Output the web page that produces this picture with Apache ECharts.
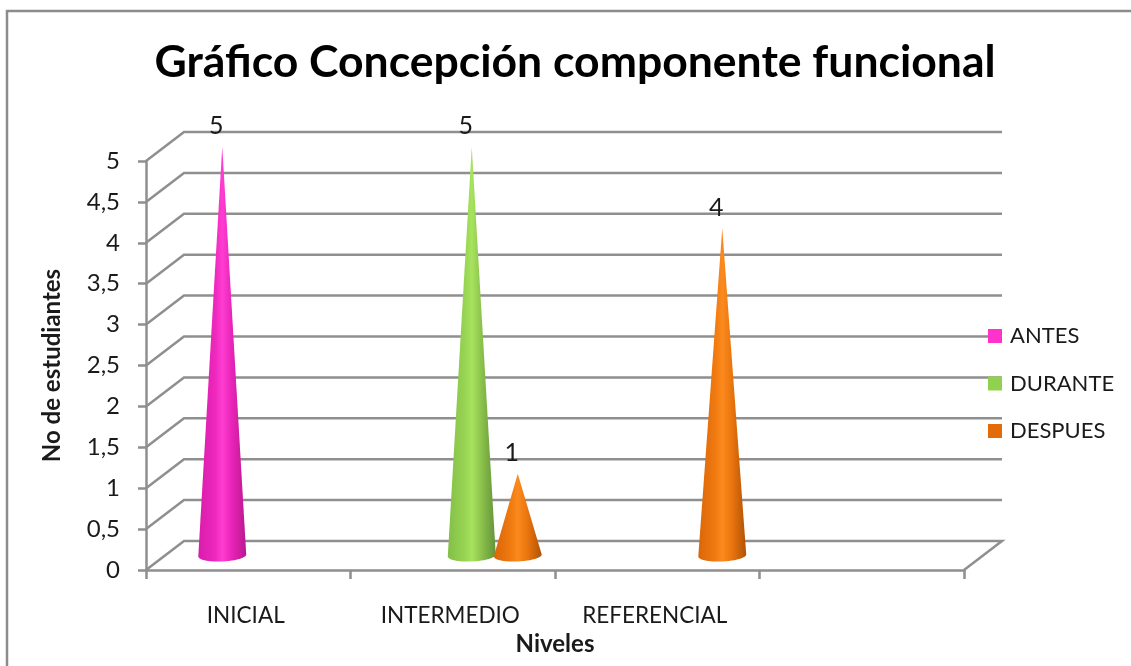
<!DOCTYPE html>
<html><head><meta charset="utf-8">
<style>html,body{margin:0;padding:0;background:#fff}#c{width:1131px;height:666px}</style>
<script src="https://cdn.jsdelivr.net/npm/echarts@6/dist/echarts.min.js"></script>
</head><body><div id="c"></div>
<script>
const categories = ['INICIAL', 'INTERMEDIO', 'REFERENCIAL', ''];
const antes = [5, 0, 0, 0];
const durante = [0, 5, 0, 0];
const despues = [0, 1, 4, 0];
const yTicks = [0, 0.5, 1, 1.5, 2, 2.5, 3, 3.5, 4, 4.5, 5];

const DEPTH_X = 38, DEPTH_Y = -29, LINE = '#8f8f8f';
const FONT = 'Lato';

function coneSeries(name, values, slot, base, stops) {
  return {
    name, type: 'custom', coordinateSystem: 'cartesian2d', clip: false, z: 5,
    itemStyle: { color: base },
    data: values.map((v, i) => [i, v]),
    encode: { x: 0, y: 1 },
    renderItem(params, api) {
      const v = api.value(1);
      if (!v) return null;
      const c = api.coord([api.value(0), 0]);
      const top = api.coord([api.value(0), v]);
      const cx = c[0] + DEPTH_X / 2 + slot;
      const cy = c[1] + DEPTH_Y / 2;
      const ay = top[1] + DEPTH_Y / 2;
      const rx = 24, ry = 6, tilt = -0.045;
      const pts = [[cx, ay]];
      for (let t = 0; t <= 24; t++) {
        const a = Math.PI * t / 24;
        const ex = rx * Math.cos(a), ey = ry * Math.sin(a);
        pts.push([cx + ex * Math.cos(tilt) - ey * Math.sin(tilt),
                  cy + ex * Math.sin(tilt) + ey * Math.cos(tilt)]);
      }
      return {
        type: 'group',
        children: [{
          type: 'polygon',
          shape: { points: pts },
          style: {
            fill: new echarts.graphic.LinearGradient(0, 0, 1, 0, stops)
          }
        }, {
          type: 'text',
          style: {
            text: String(v), x: cx - 6, y: ay - 20.5, align: 'center', verticalAlign: 'middle',
            font: '25px ' + FONT, fill: '#1a1a1a'
          }
        }]
      };
    }
  };
}

const wallSeries = {
  name: 'wall', type: 'custom', coordinateSystem: 'cartesian2d', clip: false, silent: true, z: 1,
  data: yTicks.map(t => [0, t]),
  encode: { x: 0, y: 1 },
  renderItem(params, api) {
    const lastCat = categories.length - 1;
    const y = api.coord([0, api.value(1)])[1];
    const size = api.size([1, 0])[0];
    const x0 = api.coord([0, 0])[0] - size / 2;
    const x1 = api.coord([lastCat, 0])[0] + size / 2;
    const style = { stroke: LINE, lineWidth: 2.5, fill: null };
    const pts = [[x0, y], [x0 + DEPTH_X, y + DEPTH_Y], [x1 + DEPTH_X, y + DEPTH_Y]];
    if (api.value(1) === 0) pts.push([x1, y]);
    return { type: 'polyline', shape: { points: pts }, style };
  }
};

const chart = echarts.init(document.getElementById('c'), null, { renderer: 'canvas' });
chart.setOption({
  animation: false,
  backgroundColor: '#fff',
  graphic: [{
    type: 'rect', silent: true, z: -1,
    shape: { x: 7, y: 11, width: 1140, height: 670 },
    style: { fill: '#fff', stroke: '#8c8c8c', lineWidth: 2.5 }
  }],
  title: {
    text: 'Gráfico Concepción componente funcional',
    left: 570, top: 35, textAlign: 'center',
    textStyle: { fontFamily: FONT, fontSize: 44.5, fontWeight: 'bold', color: '#000' }
  },
  legend: {
    data: ['ANTES', 'DURANTE', 'DESPUES'],
    orient: 'vertical', left: 983, top: 320,
    itemWidth: 14, itemHeight: 14, itemGap: 25.5, itemStyle: { borderWidth: 0 }, icon: 'rect',
    textStyle: { fontFamily: FONT, fontSize: 22, color: '#1a1a1a', padding: [0, 0, 0, 3] }
  },
  grid: { left: 146, top: 161, width: 818, height: 409, containLabel: false },
  xAxis: {
    type: 'category', data: categories, name: 'Niveles', nameLocation: 'middle', nameGap: 61,
    nameTextStyle: { fontFamily: FONT, fontSize: 24, fontWeight: 'bold', color: '#1a1a1a' },
    axisLine: { lineStyle: { color: LINE, width: 2.5 } },
    axisTick: { show: true, alignWithLabel: false, length: 9, lineStyle: { color: LINE, width: 2.5 } },
    axisLabel: { margin: 34, fontFamily: FONT, fontSize: 22.5, color: '#1a1a1a', interval: 0, padding: [0, 5, 0, 0] }
  },
  yAxis: {
    type: 'value', min: 0, max: 5, interval: 0.5, name: 'No de estudiantes', nameLocation: 'middle', nameGap: 82,
    nameTextStyle: { fontFamily: FONT, fontSize: 24, fontWeight: 'bold', color: '#1a1a1a' },
    axisLine: { show: true, lineStyle: { color: LINE, width: 2.5 } },
    axisTick: { show: true, length: 8, lineStyle: { color: LINE, width: 2.5 } },
    splitLine: { show: false },
    axisLabel: { margin: 26, fontFamily: FONT, fontSize: 24, color: '#1a1a1a',
      formatter: v => String(v).replace('.', ',') }
  },
  series: [
    wallSeries,
    coneSeries('ANTES', antes, -45, '#ff33cc',
      [{offset:0,color:'#d81cab'},{offset:0.35,color:'#ee28bd'},{offset:0.5,color:'#ff3dd2'},{offset:0.7,color:'#e824b8'},{offset:1,color:'#b81890'}]),
    coneSeries('DURANTE', durante, 0, '#92d050',
      [{offset:0,color:'#82bf48'},{offset:0.35,color:'#98d352'},{offset:0.5,color:'#a8e35e'},{offset:0.7,color:'#8cc24c'},{offset:1,color:'#62933a'}]),
    coneSeries('DESPUES', despues, 46, '#e36c09',
      [{offset:0,color:'#d96608'},{offset:0.35,color:'#f07a10'},{offset:0.5,color:'#fb8a1e'},{offset:0.7,color:'#ea750e'},{offset:1,color:'#b05305'}])
  ]
});
</script></body></html>
